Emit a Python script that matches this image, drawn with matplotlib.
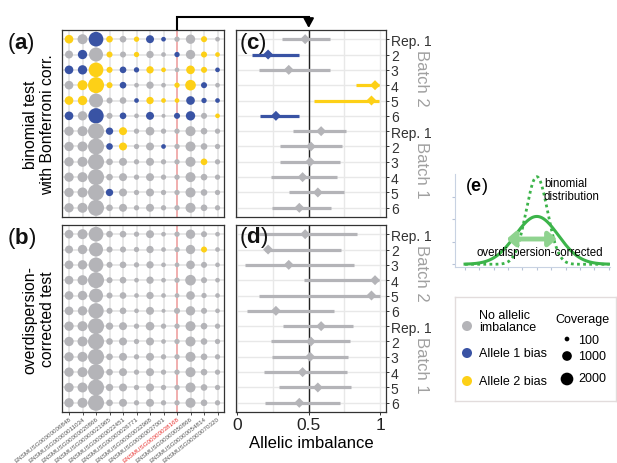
import numpy as np
import matplotlib
matplotlib.use('Agg')
import matplotlib.pyplot as plt
from matplotlib.transforms import IdentityTransform

plt.rcParams['font.family'] = ['Liberation Sans', 'DejaVu Sans']
plt.rcParams['mathtext.fontset'] = 'custom'
plt.rcParams['mathtext.rm'] = 'Liberation Sans'
plt.rcParams['mathtext.bf'] = 'Liberation Sans:bold'

# ---- data ----
genes = ['ENSMUSG00000006848', 'ENSMUSG00000011034', 'ENSMUSG00000020866',
         'ENSMUSG00000021965', 'ENSMUSG00000022451', 'ENSMUSG00000026771',
         'ENSMUSG00000032968', 'ENSMUSG00000037001', 'ENSMUSG00000038168',
         'ENSMUSG00000050866', 'ENSMUSG00000054814', 'ENSMUSG00000070320']
highlight_gene = 8
rep_labels = ['Rep. 1', '2', '3', '4', '5', '6'] * 2
batches = ['Batch 2', 'Batch 1']

# coverage per sample (rows) x gene (cols)
coverage = np.array([
    [740, 1090, 2850, 340, 340, 160, 590, 100, 160, 910, 250, 100],
    [590, 910, 2540, 250, 250, 160, 460, 100, 160, 910, 250, 100],
    [740, 910, 2850, 250, 340, 160, 460, 100, 100, 740, 250, 100],
    [740, 1090, 3500, 250, 340, 100, 460, 100, 160, 1290, 250, 100],
    [740, 910, 2540, 250, 340, 100, 460, 100, 100, 740, 160, 100],
    [740, 910, 3160, 250, 340, 100, 590, 50, 250, 910, 250, 100],
    [910, 1090, 3500, 460, 590, 160, 740, 160, 160, 1090, 340, 160],
    [910, 1090, 3500, 340, 590, 160, 590, 100, 160, 1090, 340, 160],
    [910, 1090, 3500, 340, 590, 160, 590, 160, 160, 1090, 340, 160],
    [910, 1090, 3500, 340, 590, 160, 590, 160, 160, 1090, 340, 160],
    [910, 1090, 3500, 460, 590, 160, 590, 160, 160, 1090, 340, 160],
    [910, 1090, 3500, 340, 590, 160, 590, 160, 160, 1090, 340, 160]])

# 0 = no imbalance, 1 = allele 1 bias, 2 = allele 2 bias
calls_binom = np.array([
    [2, 0, 1, 2, 0, 2, 1, 1, 0, 0, 2, 0],
    [0, 1, 0, 2, 0, 2, 0, 0, 1, 0, 2, 2],
    [1, 1, 2, 2, 1, 1, 2, 2, 0, 2, 2, 1],
    [0, 2, 2, 2, 1, 0, 0, 0, 2, 2, 1, 0],
    [2, 2, 0, 0, 0, 1, 2, 2, 2, 1, 1, 1],
    [1, 0, 1, 0, 1, 0, 1, 0, 1, 1, 0, 2],
    [0, 0, 0, 1, 2, 0, 0, 0, 0, 0, 0, 0],
    [0, 0, 0, 1, 2, 0, 0, 1, 0, 0, 0, 0],
    [0, 0, 0, 0, 0, 0, 0, 0, 0, 0, 2, 0],
    [0, 0, 0, 0, 0, 0, 0, 0, 0, 0, 0, 0],
    [0, 0, 0, 1, 0, 0, 0, 0, 0, 0, 0, 0],
    [0, 0, 0, 0, 0, 0, 0, 0, 0, 0, 0, 0]])
calls_od = np.zeros((12, 12), dtype=int)
calls_od[1, 10] = 2

# allelic imbalance estimates for highlighted gene
ai_est = [0.475, 0.215, 0.36, 0.965, 0.94, 0.27, 0.587, 0.515, 0.51, 0.457, 0.564, 0.434]
binom_lo = [0.31, 0.10, 0.15, 0.83, 0.535, 0.156, 0.39, 0.30, 0.30, 0.235, 0.36, 0.24]
binom_hi = [0.65, 0.43, 0.65, 0.99, 0.995, 0.43, 0.76, 0.73, 0.72, 0.70, 0.75, 0.655]
binom_call = [0, 1, 0, 2, 2, 1, 0, 0, 0, 0, 0, 0]
od_lo = [0.15, 0.19, 0.05, 0.465, 0.15, 0.07, 0.32, 0.235, 0.24, 0.185, 0.295, 0.19]
od_hi = [0.84, 0.725, 0.82, 0.99, 1.0, 0.68, 0.81, 0.79, 0.775, 0.765, 0.80, 0.72]
od_call = [0] * 12

# schematic in (e): peak height and spread of the two distributions
binom_peak, binom_sd = 0.97, 0.075
od_peak, od_sd = 0.53, 0.15

legend_cov = [100, 1000, 2000]
legend_calls = ['No allelic\nimbalance', 'Allele 1 bias', 'Allele 2 bias']

# ---- style ----
W, H = 617, 464
call_colors = np.array(['#b4b4b8', '#3953a4', '#fdd017'])
grid_c = '#e8e8e8'
frame_c = '#333333'


def box(l, t, r, b):
    return [l / W, 1 - b / H, (r - l) / W, (b - t) / H]


def dot_area(cov):
    d_px = 2.4 + 0.23 * np.sqrt(np.asarray(cov, dtype=float))
    return (d_px * 0.72) ** 2


def frame(ax):
    for s in ax.spines.values():
        s.set_color(frame_c)
        s.set_linewidth(0.9)


fig = plt.figure(figsize=(W / 100, H / 100), dpi=100)
ax_a = fig.add_axes(box(62, 31, 224, 218))
ax_b = fig.add_axes(box(62, 226, 224, 413))
ax_c = fig.add_axes(box(236, 31, 386, 218))
ax_d = fig.add_axes(box(236, 226, 386, 413))

rows = np.arange(1, 13)
cols = np.arange(1, 13)
cc, rr = np.meshgrid(cols, rows)

for ax, calls in [(ax_a, calls_binom), (ax_b, calls_od)]:
    ax.scatter(cc.ravel(), rr.ravel(), s=dot_area(coverage).ravel(),
               c=call_colors[calls.ravel()], linewidths=0, zorder=3)
    ax.set_xticks(cols)
    ax.set_yticks(rows)
    ax.grid(color=grid_c, lw=1.4)
    ax.set_axisbelow(True)
    ax.axvline(cols[highlight_gene], color='#f5a0a0', lw=1.1, zorder=2)
    ax.set_xlim(0.48, 12.48)
    ax.set_ylim(12.6, 0.4)
    ax.tick_params(left=False, labelleft=False, bottom=False, labelbottom=False)
    frame(ax)

ax_b.tick_params(bottom=True, labelbottom=True, length=2, width=0.6,
                 color=frame_c, pad=1)
ax_b.set_xticklabels(genes, rotation=38, ha='right', rotation_mode='anchor',
                     fontsize=4.5, color='#555555')
ax_b.get_xticklabels()[highlight_gene].set_color('#e8312f')

for ax, lo, hi, call in [(ax_c, binom_lo, binom_hi, binom_call),
                         (ax_d, od_lo, od_hi, od_call)]:
    clr = call_colors[np.array(call)]
    ax.hlines(rows, lo, hi, colors=clr, lw=2.3, zorder=3)
    ax.scatter(ai_est, rows, marker='D', s=26, c=clr, linewidths=0, zorder=4)
    ax.axvline(0.5, color='#222222', lw=1.0, zorder=2)
    ax.set_xticks([0, 0.5, 1])
    ax.set_xticks([0.25, 0.75], minor=True)
    ax.set_yticks(rows)
    ax.grid(which='both', color=grid_c, lw=1.0)
    ax.set_axisbelow(True)
    ax.set_xlim(-0.01, 1.042)
    ax.set_ylim(12.6, 0.4)
    ax.yaxis.tick_right()
    ax.set_yticklabels(rep_labels, fontsize=10, color='#333333')
    ax.tick_params(axis='y', length=2.5, width=0.7, color=frame_c, pad=1)
    ax.tick_params(axis='x', which='minor', length=0)
    for k, b in enumerate(batches):
        ax.text(1.235, 3.5 + 6 * k, b, transform=ax.get_yaxis_transform(),
                rotation=-90, ha='center', va='center', fontsize=12,
                color='#a0a0a0')
    frame(ax)

ax_c.tick_params(axis='x', bottom=False, labelbottom=False)
ax_d.tick_params(axis='x', length=2.5, width=0.7, color=frame_c, pad=1,
                 labelsize=12.5, labelcolor='#222222')
ax_d.set_xticklabels(['0', '0.5', '1'])
ax_d.set_xlabel('Allelic imbalance', fontsize=12, labelpad=2)


# panel letters
def letter(x, y, ch, size=16):
    fig.text(x / W, 1 - y / H, '(' + r'$\mathbf{' + ch + '}$' + ')',
             fontsize=size, va='center', ha='left', color='#111111')


letter(7, 44, 'a')
letter(7, 239, 'b')
letter(239, 43, 'c')
letter(239, 238, 'd')

fig.text(39 / W, 1 - 124.5 / H, 'binomial test\nwith Bonferroni corr.',
         rotation=90, ha='center', va='center', fontsize=11.3)
fig.text(39 / W, 1 - 319.5 / H, 'overdispersion-\ncorrected test',
         rotation=90, ha='center', va='center', fontsize=11.3)

# bracket arrow from highlighted gene to panel (c)
xa, ya = ax_a.transData.transform((cols[highlight_gene], 0.4))
xc, yc = ax_c.transData.transform((0.5, 0.4))
top = ya + 13
fig.add_artist(plt.Line2D([xa, xa, xc], [ya + 1, top, top], color='black',
                          lw=1.5, transform=IdentityTransform(),
                          solid_joinstyle='miter'))
fig.add_artist(matplotlib.patches.FancyArrowPatch(
    (xc, top), (xc, yc + 2), transform=IdentityTransform(),
    arrowstyle='-|>,head_length=0.55,head_width=0.3', mutation_scale=10,
    lw=1.5, color='black', shrinkA=0, shrinkB=0))

# (e) schematic
ax_e = fig.add_axes(box(455, 175, 610, 268))
xe = np.linspace(0, 1, 300)
ax_e.plot(xe, binom_peak * np.exp(-0.5 * ((xe - 0.5) / binom_sd) ** 2),
          color='#3cb44a', lw=2, ls=(0, (1, 1.2)))
ax_e.plot(xe, od_peak * np.exp(-0.5 * ((xe - 0.5) / od_sd) ** 2),
          color='#3cb44a', lw=2.2)
ax_e.annotate('', xy=(0.64, 0.28), xytext=(0.29, 0.28),
              arrowprops=dict(arrowstyle='<|-|>,head_length=0.4,head_width=0.35',
                              color='#8fd38f', lw=3.5, mutation_scale=12,
                              shrinkA=0, shrinkB=0))
ax_e.text(0.55, 0.83, 'binomial\ndistribution', fontsize=8.3, va='center',
          ha='left', linespacing=1.05)
ax_e.text(0.08, 0.136, 'overdispersion-corrected', fontsize=8.3, va='center',
          ha='left')
ax_e.text(0.0, 0.87, '(' + r'$\mathbf{e}$' + ')', fontsize=13, va='center')
ax_e.set_xlim(-0.07, 1.01)
ax_e.set_ylim(-0.03, 1.0)
ax_e.set_xticks(np.linspace(0, 1, 11))
ax_e.set_yticks([0, 0.25, 0.5, 0.75])
ax_e.tick_params(length=2, color='#b8c4d8', labelleft=False, labelbottom=False)
for k, s in ax_e.spines.items():
    s.set_visible(k in ('left', 'bottom'))
    s.set_color('#c8d2e2')
    s.set_linewidth(0.8)
ax_e.patch.set_alpha(0)

# legend
ax_l = fig.add_axes(box(455, 298, 616, 402))
ax_l.set_xlim(455, 616)
ax_l.set_ylim(402, 298)
ax_l.set_xticks([])
ax_l.set_yticks([])
for s in ax_l.spines.values():
    s.set_color('#e2dcdc')
    s.set_linewidth(1.0)
key_y = [327, 354, 382]
text_y = [322, 354, 382]
ax_l.scatter([467] * 3, key_y, s=52, c=call_colors, linewidths=0)
for ty, t in zip(text_y, legend_calls):
    ax_l.text(479, ty, t, fontsize=9, va='center', ha='left', linespacing=1.05)
ax_l.text(555, 320, 'Coverage', fontsize=9, va='center', ha='left')
ax_l.scatter([567] * 3, [340, 357, 380], s=dot_area(legend_cov),
             c='black', linewidths=0)
for ty, v in zip([341, 357, 379], legend_cov):
    ax_l.text(578, ty, str(v), fontsize=9, va='center', ha='left')

fig.savefig('out.png', dpi=100)
